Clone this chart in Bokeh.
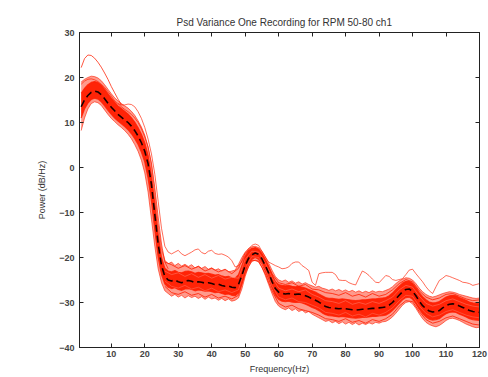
from bokeh.plotting import figure
from bokeh.models import LinearAxis, FixedTicker, Range1d
from bokeh.embed import file_html
from bokeh.resources import INLINE

# Frequency bins (Hz)
freq = list(range(1, 121))

# Mean PSD across all segments (dB/Hz)
mean_psd = [
    13.5, 15.0, 16.0, 16.7, 17.0, 16.8, 16.2, 15.3, 14.3, 13.4,
    12.6, 11.8, 11.2, 10.6, 10.0, 9.2, 8.2, 7.0, 5.5, 3.6,
    0.8, -3.8, -10.5, -17.0, -21.8, -24.2, -25.0, -25.2, -25.0, -25.4,
    -25.6, -25.3, -25.1, -25.3, -25.6, -25.4, -25.5, -25.7, -25.6, -25.8,
    -26.0, -25.9, -26.2, -26.4, -26.3, -26.6, -26.7, -26.0, -24.0, -21.8,
    -20.2, -19.4, -19.0, -19.3, -20.3, -21.8, -23.4, -25.3, -26.9, -27.7,
    -28.0, -28.1, -28.0, -28.1, -28.2, -28.1, -28.3, -28.5, -28.8, -29.2,
    -29.5, -29.9, -30.4, -30.9, -31.1, -31.2, -31.3, -31.4, -31.3, -31.4,
    -31.5, -31.6, -31.7, -31.6, -31.5, -31.5, -31.4, -31.3, -31.3, -31.2,
    -31.1, -31.0, -30.6, -30.0, -29.2, -28.4, -27.6, -27.1, -27.0, -27.5,
    -28.5, -29.7, -30.7, -31.4, -31.9, -32.1, -32.0, -31.8, -31.2, -30.7,
    -30.4, -30.3, -30.4, -30.8, -31.1, -31.4, -31.8, -32.0, -32.1, -32.2,
]

# Extremes of the segment spread (upper / lower)
spread_hi = [
    19.0, 19.6, 20.0, 20.3, 20.2, 19.9, 19.3, 18.4, 17.4, 16.4,
    15.5, 14.8, 14.2, 13.7, 13.2, 12.5, 11.6, 10.4, 9.0, 7.2,
    4.6, 0.5, -5.5, -12.5, -18.0, -20.6, -21.4, -21.0, -21.8, -21.3,
    -21.9, -21.5, -22.0, -21.6, -22.3, -21.9, -22.4, -22.0, -22.6, -22.3,
    -22.8, -22.5, -23.0, -22.7, -23.2, -23.0, -22.8, -21.5, -20.0, -18.8,
    -18.0, -17.6, -17.5, -17.8, -18.6, -19.8, -21.2, -22.8, -24.2, -25.0,
    -25.3, -25.0, -25.5, -25.2, -25.7, -25.4, -25.9, -25.6, -26.0, -26.3,
    -26.6, -26.4, -26.8, -27.0, -27.3, -27.0, -27.4, -27.1, -27.5, -27.2,
    -27.6, -27.3, -27.7, -27.4, -27.8, -27.5, -27.8, -27.4, -27.7, -27.5,
    -27.6, -27.3, -27.0, -26.5, -25.8, -25.2, -24.8, -24.5, -24.6, -25.0,
    -25.8, -26.8, -27.6, -28.2, -28.6, -28.8, -28.6, -28.3, -28.0, -27.8,
    -27.6, -27.7, -27.9, -28.2, -28.4, -28.6, -28.8, -29.0, -29.1, -29.0,
]
spread_lo = [
    8.2, 11.0, 13.0, 14.2, 14.6, 14.4, 13.8, 12.8, 11.8, 10.9,
    10.2, 9.5, 8.9, 8.2, 7.4, 6.4, 5.1, 3.6, 1.6, -1.2,
    -5.5, -11.5, -17.5, -22.5, -25.6, -27.4, -28.0, -28.6, -28.2, -28.8,
    -28.4, -29.0, -28.5, -28.9, -28.6, -29.1, -28.7, -29.3, -28.8, -29.2,
    -29.0, -29.5, -29.1, -29.6, -29.2, -29.7, -29.5, -29.0, -27.0, -24.2,
    -22.0, -20.9, -20.6, -21.0, -22.2, -24.0, -26.0, -28.0, -29.8, -30.8,
    -31.3, -31.6, -31.2, -31.8, -31.4, -32.0, -31.7, -32.3, -32.0, -32.6,
    -33.0, -33.4, -33.8, -34.2, -34.0, -34.5, -34.2, -34.7, -34.3, -34.8,
    -34.4, -34.9, -34.5, -35.0, -34.6, -34.9, -34.5, -34.8, -34.4, -34.6,
    -34.3, -34.2, -33.8, -33.2, -32.4, -31.5, -30.6, -30.0, -29.8, -30.3,
    -31.3, -32.5, -33.6, -34.4, -34.9, -35.2, -35.4, -35.1, -34.6, -34.0,
    -33.6, -33.5, -33.7, -34.0, -34.4, -34.8, -35.1, -35.4, -35.6, -35.5,
]

# Where most segments lie (upper / lower)
core_hi = [
    16.5, 17.6, 18.4, 18.9, 19.1, 18.9, 18.3, 17.4, 16.4, 15.4,
    14.5, 13.7, 13.1, 12.5, 11.9, 11.1, 10.1, 8.9, 7.4, 5.5,
    2.7, -1.8, -8.0, -14.8, -20.0, -22.4, -23.0, -23.2, -22.9, -23.3,
    -23.4, -23.1, -23.0, -23.2, -23.5, -23.3, -23.4, -23.6, -23.5, -23.7,
    -23.9, -23.8, -24.1, -24.3, -24.2, -24.5, -24.6, -23.8, -21.8, -19.8,
    -18.6, -18.0, -17.8, -18.1, -19.1, -20.5, -22.0, -23.8, -25.3, -26.0,
    -26.2, -26.3, -26.2, -26.4, -26.5, -26.4, -26.6, -26.8, -27.1, -27.4,
    -27.7, -28.1, -28.5, -28.9, -29.1, -29.1, -29.2, -29.3, -29.2, -29.3,
    -29.4, -29.5, -29.6, -29.5, -29.4, -29.4, -29.3, -29.2, -29.2, -29.1,
    -29.0, -28.9, -28.5, -27.9, -27.1, -26.4, -25.7, -25.3, -25.3, -25.8,
    -26.7, -27.8, -28.7, -29.4, -29.9, -30.1, -30.0, -29.8, -29.3, -28.8,
    -28.5, -28.4, -28.5, -28.9, -29.2, -29.5, -29.9, -30.1, -30.2, -30.3,
]
core_lo = [
    11.0, 13.0, 14.3, 15.1, 15.4, 15.2, 14.6, 13.7, 12.7, 11.8,
    11.0, 10.3, 9.7, 9.1, 8.4, 7.5, 6.4, 5.1, 3.4, 1.2,
    -2.4, -7.5, -14.0, -20.0, -23.8, -25.9, -26.6, -26.9, -26.7, -27.1,
    -27.3, -27.0, -26.9, -27.1, -27.4, -27.2, -27.3, -27.5, -27.4, -27.6,
    -27.8, -27.7, -28.0, -28.2, -28.1, -28.4, -28.5, -27.9, -25.8, -23.2,
    -21.4, -20.4, -20.0, -20.4, -21.4, -23.0, -24.7, -26.7, -28.4, -29.3,
    -29.7, -29.8, -29.7, -29.9, -30.0, -29.9, -30.1, -30.4, -30.7, -31.1,
    -31.4, -31.8, -32.3, -32.7, -32.9, -33.0, -33.1, -33.2, -33.1, -33.2,
    -33.3, -33.4, -33.5, -33.4, -33.3, -33.3, -33.2, -33.1, -33.1, -33.0,
    -32.9, -32.8, -32.4, -31.8, -31.0, -30.2, -29.4, -28.9, -28.8, -29.3,
    -30.3, -31.5, -32.5, -33.2, -33.7, -33.9, -33.8, -33.6, -33.0, -32.5,
    -32.2, -32.1, -32.2, -32.6, -32.9, -33.2, -33.6, -33.8, -33.9, -34.0,
]

# A few individual segments above the roll-off (every 2 Hz from 26 Hz)
freq_tail = list(range(26, 121, 2))
seg_a = [
    -21.0, -21.6, -22.4, -21.8, -22.6, -22.0, -23.0, -22.4, -23.2, -22.6,
    -23.6, -22.4, -19.0, -17.9, -18.3, -20.4, -23.6, -25.6, -26.0, -25.6,
    -26.4, -26.0, -27.0, -27.2, -27.8, -28.0, -28.4, -27.8, -28.6, -28.2,
    -28.8, -28.0, -28.6, -28.2, -27.2, -25.8, -24.9, -25.4, -27.4, -28.8,
    -29.4, -29.0, -28.2, -28.0, -28.6, -29.2, -29.6, -29.4,
]
seg_b = [
    -26.4, -27.8, -28.2, -27.6, -28.4, -28.0, -28.8, -28.2, -29.0, -28.6,
    -29.2, -28.4, -23.6, -20.6, -20.8, -23.6, -27.4, -30.2, -31.0, -30.6,
    -31.4, -31.8, -32.2, -32.8, -33.6, -33.8, -34.2, -33.6, -34.4, -34.0,
    -34.6, -33.8, -34.2, -33.6, -32.6, -30.8, -29.6, -29.8, -32.0, -33.8,
    -34.6, -34.2, -33.4, -33.0, -33.6, -34.2, -34.8, -35.0,
]
seg_c = [
    -23.0, -23.8, -23.4, -24.2, -23.6, -24.4, -23.8, -24.6, -24.0, -24.8,
    -24.4, -24.6, -20.4, -18.6, -18.8, -21.2, -24.4, -26.8, -27.4, -27.0,
    -27.6, -27.2, -28.2, -28.8, -29.6, -29.8, -30.2, -29.6, -30.4, -30.0,
    -30.4, -29.8, -30.2, -29.6, -28.8, -27.2, -26.2, -26.6, -28.6, -30.2,
    -30.8, -30.4, -29.6, -29.2, -29.8, -30.4, -30.8, -31.0,
]
seg_d = [
    -25.2, -26.4, -26.8, -26.2, -27.0, -26.6, -27.4, -26.8, -27.6, -27.2,
    -27.8, -27.2, -22.4, -19.8, -20.0, -22.6, -26.2, -28.8, -29.4, -29.0,
    -29.8, -30.0, -30.6, -31.2, -32.2, -32.4, -32.8, -32.2, -33.0, -32.6,
    -33.2, -32.4, -32.8, -32.2, -31.2, -29.6, -28.4, -28.6, -30.8, -32.4,
    -33.2, -32.8, -32.0, -31.6, -32.2, -32.8, -33.2, -33.4,
]

# Segment with a strong low-frequency peak (1-13 Hz)
seg_peak_freq = list(range(1, 14))
seg_peak = [22.2, 24.2, 25.0, 24.9, 24.3, 23.4, 22.3, 21.0, 19.6, 18.0, 16.6, 15.2, 14.0]

# Segment with a late roll-off and a raised noise floor
seg_high = [
    18.5, 19.2, 19.6, 19.7, 19.5, 19.1, 18.5, 17.8, 16.9, 15.9,
    14.8, 14.2, 13.9, 13.9, 14.1, 14.0, 13.5, 12.4, 10.9, 8.9,
    6.3, 3.0, -1.5, -7.5, -13.5, -17.5, -18.8, -19.2, -18.8, -18.4,
    -19.2, -19.6, -19.2, -18.8, -18.3, -18.1, -18.9, -19.2, -18.6, -18.4,
    -19.1, -19.3, -19.2, -19.5, -19.9, -20.7, -22.1, -21.8, -21.0, -19.6,
    -18.1, -17.3, -17.0, -17.3, -18.6, -19.9, -21.0, -21.4, -21.8, -22.1,
    -22.5, -22.4, -22.1, -21.3, -21.0, -21.0, -21.8, -22.3, -22.9, -25.5,
    -26.2, -23.6, -23.4, -23.3, -23.3, -23.3, -23.8, -25.0, -25.1, -25.1,
    -25.6, -25.9, -26.1, -24.5, -23.0, -23.4, -24.0, -24.8, -25.5, -25.6,
    -24.8, -24.0, -24.2, -24.9, -25.1, -24.9, -24.7, -23.8, -22.8, -22.6,
    -23.6, -24.5, -25.4, -26.5, -27.4, -28.0, -26.5, -25.1, -24.6, -24.0,
    -24.2, -24.5, -24.8, -25.1, -25.5, -25.6, -25.8, -26.2, -26.0, -25.8,
]

# Segment rolling off slightly later than the rest (12-27 Hz)
seg_late_freq = list(range(12, 28))
seg_late = [14.2, 13.5, 12.9, 12.4, 11.8, 11.0, 10.0, 8.6, 6.8, 4.5,
            1.0, -4.5, -11.0, -17.0, -21.0, -22.5]

x_ticks = [10, 20, 30, 40, 50, 60, 70, 80, 90, 100, 110, 120]
y_ticks = [-40, -30, -20, -10, 0, 10, 20, 30]

RED = "#ff1e00"
PALE = "#ff8a78"
FONT = "Liberation Sans"

p = figure(
    width=488, height=377,
    x_range=Range1d(0.5, 120), y_range=Range1d(-40, 30),
    output_backend="svg", toolbar_location=None,
    title="Psd Variance One Recording for RPM 50-80 ch1",
    min_border_left=79, min_border_right=9,
    min_border_top=32, min_border_bottom=30,
)
p.xgrid.visible = False
p.ygrid.visible = False
p.background_fill_color = "white"
p.border_fill_color = "white"
p.outline_line_color = "#222222"

p.title.align = "left"
p.title.offset = 97
p.title.text_font = FONT
p.title.text_font_size = "10px"
p.title.text_font_style = "normal"
p.title.text_color = "#333333"

# Spread of all segments
p.varea(x=freq, y1=spread_lo, y2=spread_hi, fill_color=RED, fill_alpha=0.45)
p.line(freq, spread_hi, line_color=RED, line_alpha=0.6, line_width=1)
p.line(freq, spread_lo, line_color=RED, line_alpha=0.6, line_width=1)
p.line(freq_tail, seg_a, line_color=RED, line_alpha=0.8, line_width=1)
p.line(freq_tail, seg_b, line_color=RED, line_alpha=0.8, line_width=1)
p.varea(x=freq, y1=core_lo, y2=core_hi, fill_color=RED, fill_alpha=0.95)
p.line(freq, core_hi, line_color=RED, line_alpha=0.8, line_width=1.2)
p.line(freq, core_lo, line_color=RED, line_alpha=0.8, line_width=1.2)
p.line(freq_tail, seg_c, line_color=PALE, line_alpha=0.6, line_width=0.8)
p.line(freq_tail, seg_d, line_color=PALE, line_alpha=0.5, line_width=0.8)

# Individual outlying segments
p.line(seg_peak_freq, seg_peak, line_color=RED, line_alpha=0.75, line_width=1)
p.line(freq, seg_high, line_color=RED, line_alpha=0.65, line_width=1)
p.line(seg_late_freq, seg_late, line_color=RED, line_alpha=0.7, line_width=1)

# Mean PSD
p.line(freq, mean_psd, line_color="#1a0000", line_width=1.6, line_dash="7 4")

for ax in (p.xaxis[0], p.yaxis[0]):
    ax.major_tick_in = 4
    ax.major_tick_out = 0
    ax.minor_tick_in = 0
    ax.minor_tick_out = 0
    ax.axis_line_color = "#222222"
    ax.major_tick_line_color = "#222222"
    ax.major_label_text_font = FONT
    ax.major_label_text_font_size = "9px"
    ax.major_label_text_font_style = "bold"
    ax.major_label_text_color = "#444444"
    ax.axis_label_text_font = FONT
    ax.axis_label_text_font_size = "9px"
    ax.axis_label_text_font_style = "normal"
    ax.axis_label_text_color = "#333333"

p.xaxis[0].ticker = FixedTicker(ticks=x_ticks)
p.yaxis[0].ticker = FixedTicker(ticks=y_ticks)
p.xaxis[0].axis_label = "Frequency(Hz)"
p.yaxis[0].axis_label = "Power (dB/Hz)"
p.xaxis[0].major_label_standoff = 3
p.xaxis[0].axis_label_standoff = 4
p.yaxis[0].major_label_standoff = 5
p.yaxis[0].axis_label_standoff = 9

# Tick marks on the top and right edges of the box (no labels there)
top_ax = LinearAxis(ticker=FixedTicker(ticks=x_ticks),
                    major_label_overrides={t: "" for t in x_ticks})
right_ax = LinearAxis(ticker=FixedTicker(ticks=y_ticks),
                      major_label_overrides={t: "" for t in y_ticks})
for ax in (top_ax, right_ax):
    ax.major_tick_in = 4
    ax.major_tick_out = 0
    ax.minor_tick_in = 0
    ax.minor_tick_out = 0
    ax.major_label_text_font_size = "9px"
    ax.major_label_standoff = 0
    ax.axis_line_color = "#222222"
    ax.major_tick_line_color = "#222222"
p.add_layout(top_ax, "above")
p.add_layout(right_ax, "right")

open("out.html", "w").write(file_html(p, INLINE))
